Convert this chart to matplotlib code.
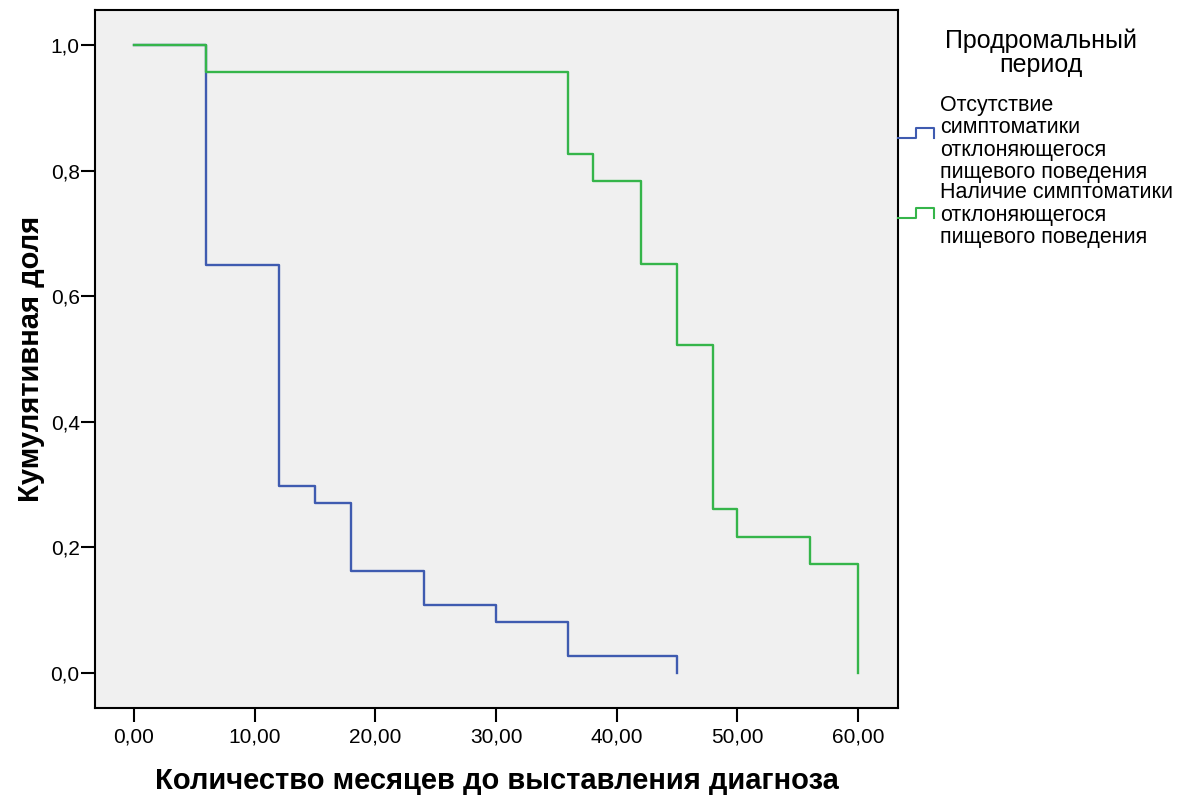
import matplotlib
matplotlib.use('Agg')
import matplotlib.pyplot as plt
from matplotlib.lines import Line2D

plt.rcParams['font.family'] = ['Liberation Sans', 'DejaVu Sans']

# Kaplan-Meier style cumulative proportions (n=37 and n=23)
months_no = [0, 6, 12, 15, 18, 24, 30, 36, 45]
surv_no = [1.0, 0.649, 0.297, 0.270, 0.162, 0.108, 0.081, 0.027, 0.0]

months_yes = [0, 6, 36, 38, 42, 45, 48, 50, 56, 60]
surv_yes = [1.0, 0.957, 0.826, 0.783, 0.652, 0.522, 0.261, 0.217, 0.174, 0.0]

x_ticks = [0, 10, 20, 30, 40, 50, 60]
y_ticks = [0.0, 0.2, 0.4, 0.6, 0.8, 1.0]

legend_title = 'Продромальный\nпериод'
label_no = 'Отсутствие\nсимптоматики\nотклоняющегося\nпищевого поведения'
label_yes = 'Наличие симптоматики\nотклоняющегося\nпищевого поведения'

blue = '#3f5bb0'
green = '#35b54a'

fig = plt.figure(figsize=(11.85, 7.96), dpi=100)
ax = fig.add_axes([95 / 1185, 88 / 796, 803 / 1185, 698 / 796])
ax.set_facecolor('#f0f0f0')

ax.step(months_no, surv_no, where='post', color=blue, lw=1.7)
ax.step(months_yes, surv_yes, where='post', color=green, lw=1.7)

ax.set_xlim(-3.23, 63.3)
ax.set_ylim(-0.0557, 1.0557)
ax.set_xticks(x_ticks)
ax.set_xticklabels([f'{v:.2f}'.replace('.', ',') for v in x_ticks])
ax.set_yticks(y_ticks)
ax.set_yticklabels([f'{v:.1f}'.replace('.', ',') for v in y_ticks])
ax.tick_params(axis='both', labelsize=15, length=10, width=1.5, direction='out')
ax.tick_params(axis='y', pad=1)
ax.tick_params(axis='x', pad=4)
for s in ax.spines.values():
    s.set_linewidth(1.5)

ax.set_xlabel('Количество месяцев до выставления диагноза', fontsize=21,
              fontweight='bold', labelpad=15)
ax.set_ylabel('Кумулятивная доля', fontsize=21, fontweight='bold', labelpad=4)

# legend drawn by hand (SPSS style)
def px(x, y):
    return x / 1185, 1 - y / 796

fig.text(*px(1041, 53), legend_title, ha='center', va='center', fontsize=18,
         linespacing=1.0)
fig.text(*px(940, 139), label_no, ha='left', va='center', fontsize=15.5,
         linespacing=1.07)
fig.text(*px(940, 215), label_yes, ha='left', va='center', fontsize=15.5,
         linespacing=1.07)

for yb, col in [(138, blue), (218, green)]:
    xs = [898, 916, 916, 934, 934]
    ys = [yb, yb, yb - 10, yb - 10, yb]
    fig.add_artist(Line2D([x / 1185 for x in xs], [1 - y / 796 for y in ys],
                          color=col, lw=1.5, transform=fig.transFigure))

fig.savefig('out.png', dpi=100)
